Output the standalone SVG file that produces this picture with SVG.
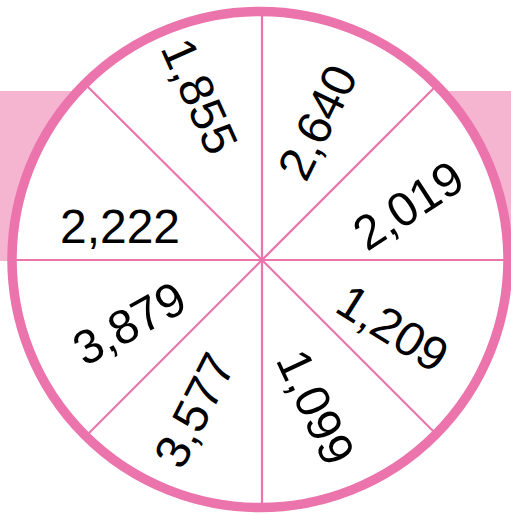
<svg xmlns="http://www.w3.org/2000/svg" width="511" height="515" viewBox="0 0 511 515">
<style>
.band{fill:#F5B5D1}
.ring{fill:#FFFFFF;stroke:#EC74AC;stroke-width:9.5}
.spoke{stroke:#EC74AC;stroke-width:2.2;fill:none}
.lbl{font-family:"Liberation Sans",Arial,Helvetica,sans-serif;font-size:48px;fill:#000;text-anchor:middle}
</style>
<rect class="band" x="0" y="91" width="511" height="170"/>
<g id="wheel">
<circle class="ring" cx="260" cy="259.5" r="248"/>
</g>
<g id="connectors">
<line class="spoke" x1="262" y1="260" x2="262" y2="14"/>
<line class="spoke" x1="262" y1="260" x2="262" y2="505"/>
<line class="spoke" x1="16" y1="260" x2="505" y2="260"/>
<line class="spoke" x1="262" y1="260" x2="88" y2="87"/>
<line class="spoke" x1="262" y1="260" x2="435" y2="87"/>
<line class="spoke" x1="262" y1="260" x2="435" y2="433"/>
<line class="spoke" x1="262" y1="260" x2="89" y2="433"/>
</g>
<g id="n1855"><text class="lbl" transform="translate(200,96) rotate(66)" x="0" y="17">1,855</text></g>
<g id="n2640"><text class="lbl" transform="translate(317,122) rotate(-64)" x="0" y="17">2,640</text></g>
<g id="n2019"><text class="lbl" transform="translate(408,205) rotate(-33)" x="0" y="17">2,019</text></g>
<g id="n1209"><text class="lbl" transform="translate(393,328) rotate(32)" x="0" y="17">1,209</text></g>
<g id="n1099"><text class="lbl" transform="translate(316,407) rotate(65)" x="0" y="17">1,099</text></g>
<g id="n3577"><text class="lbl" transform="translate(194,410) rotate(-63)" x="0" y="17">3,577</text></g>
<g id="n3879"><text class="lbl" transform="translate(129,323) rotate(-29)" x="0" y="17">3,879</text></g>
<g id="n2222"><text class="lbl" transform="translate(120,226)" x="0" y="17">2,222</text></g>
</svg>
